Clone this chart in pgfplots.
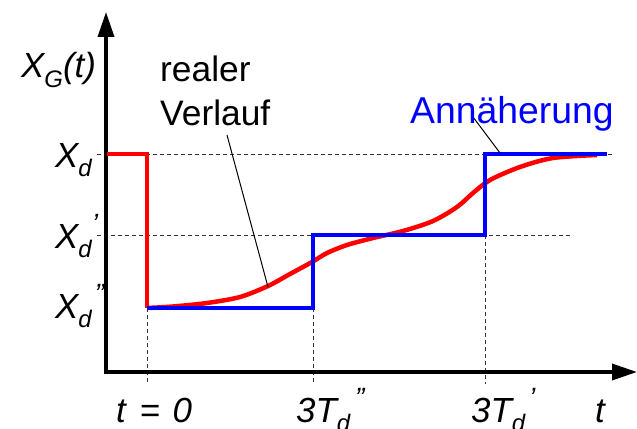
\documentclass[border=0pt]{standalone}
\usepackage{fontspec}
\setmainfont{Liberation Sans}
\usepackage{pgfplots}
\pgfplotsset{compat=1.18}
\usetikzlibrary{arrows.meta}
\definecolor{myred}{RGB}{255,0,0}
\definecolor{myblue}{RGB}{0,0,255}
\newcommand{\lbl}{\fontsize{35}{38}\selectfont\itshape}
\newcommand{\sub}[1]{\raisebox{-0.28em}{\fontsize{24}{24}\selectfont #1}}
\newcommand{\sups}[1]{\raisebox{0.42em}{\fontsize{28}{28}\selectfont #1}}
\begin{document}
\begin{tikzpicture}
\begin{axis}[
  scale only axis, width=637bp, height=429bp,
  xmin=0, xmax=637, ymin=0, ymax=429, y dir=reverse,
  hide axis, clip=false]
% dashed guide lines
\addplot[black!80, line width=1bp, dash pattern=on 4bp off 3bp] coordinates {(97,154) (612,154)};
\addplot[black!80, line width=1bp, dash pattern=on 4bp off 3bp] coordinates {(97,235) (573,235)};
\addplot[black!80, line width=1bp, dash pattern=on 4bp off 3bp] coordinates {(147,308) (147,384)};
\addplot[black!80, line width=1bp, dash pattern=on 4bp off 3bp] coordinates {(313,308) (313,384)};
\addplot[black!80, line width=1bp, dash pattern=on 4bp off 3bp] coordinates {(485,235) (485,384)};
% axes
\draw[line width=3.5bp, -{Triangle[length=25bp,width=16bp]}] (axis cs:106,373.7) -- (axis cs:106,12);
\draw[line width=3.5bp, -{Triangle[length=25bp,width=16bp]}] (axis cs:104.3,372) -- (axis cs:637,372);
% real course (red)
\addplot[myred, line width=4.5bp, line join=miter] coordinates {(107,154) (147,154) (147,308)};
\addplot[myred, line width=4.5bp, smooth] coordinates {
(147,308) (173,306.5) (207,303) (240,297) (268,286) (290,274) (312,262)
(327,253) (347,245) (373,238) (403,231) (433,221) (457,207) (473,193)
(490,180) (520,167) (553,158) (597,155)};
% approximation (blue)
\addplot[myblue, line width=4.5bp, line join=miter] coordinates {
(147,308) (313,308) (313,235) (485,235) (485,154) (607,154)};
% annotation lines
\addplot[black, line width=1bp] coordinates {(227,135) (268,287)};
\addplot[black, line width=1bp] coordinates {(473,117) (500,153)};
% labels
\node[anchor=base west, inner sep=0] at (axis cs:21,78) {\lbl X\sub{G}(t)};
\node[anchor=base west, inner sep=0] at (axis cs:55,167) {\lbl X\sub{d}};
\node[anchor=base west, inner sep=0] at (axis cs:55,248) {\lbl X\sub{d}\sups{’}};
\node[anchor=base west, inner sep=0] at (axis cs:55,318) {\lbl X\sub{d}\hspace{3bp}\sups{”}};
\node[anchor=base west, inner sep=0] at (axis cs:116,422) {\lbl t\hspace{4bp} = \hspace{3bp}0};
\node[anchor=base west, inner sep=0] at (axis cs:296,422) {\lbl 3T\sub{d}\hspace{5bp}\sups{”}};
\node[anchor=base west, inner sep=0] at (axis cs:471,422) {\lbl 3T\sub{d}\hspace{4bp}\sups{’}};
\node[anchor=base west, inner sep=0] at (axis cs:595,422) {\lbl t};
\node[anchor=base west, inner sep=0] at (axis cs:160,82) {\fontsize{35.5}{38}\selectfont realer};
\node[anchor=base west, inner sep=0] at (axis cs:160,125) {\fontsize{35.5}{38}\selectfont Verlauf};
\node[anchor=base west, inner sep=0, text=myblue] at (axis cs:410,123) {\fontsize{37.5}{40}\selectfont Annäherung};
\end{axis}
\pgfresetboundingbox
\useasboundingbox (0,0) rectangle (637bp,429bp);
\end{tikzpicture}
\end{document}
